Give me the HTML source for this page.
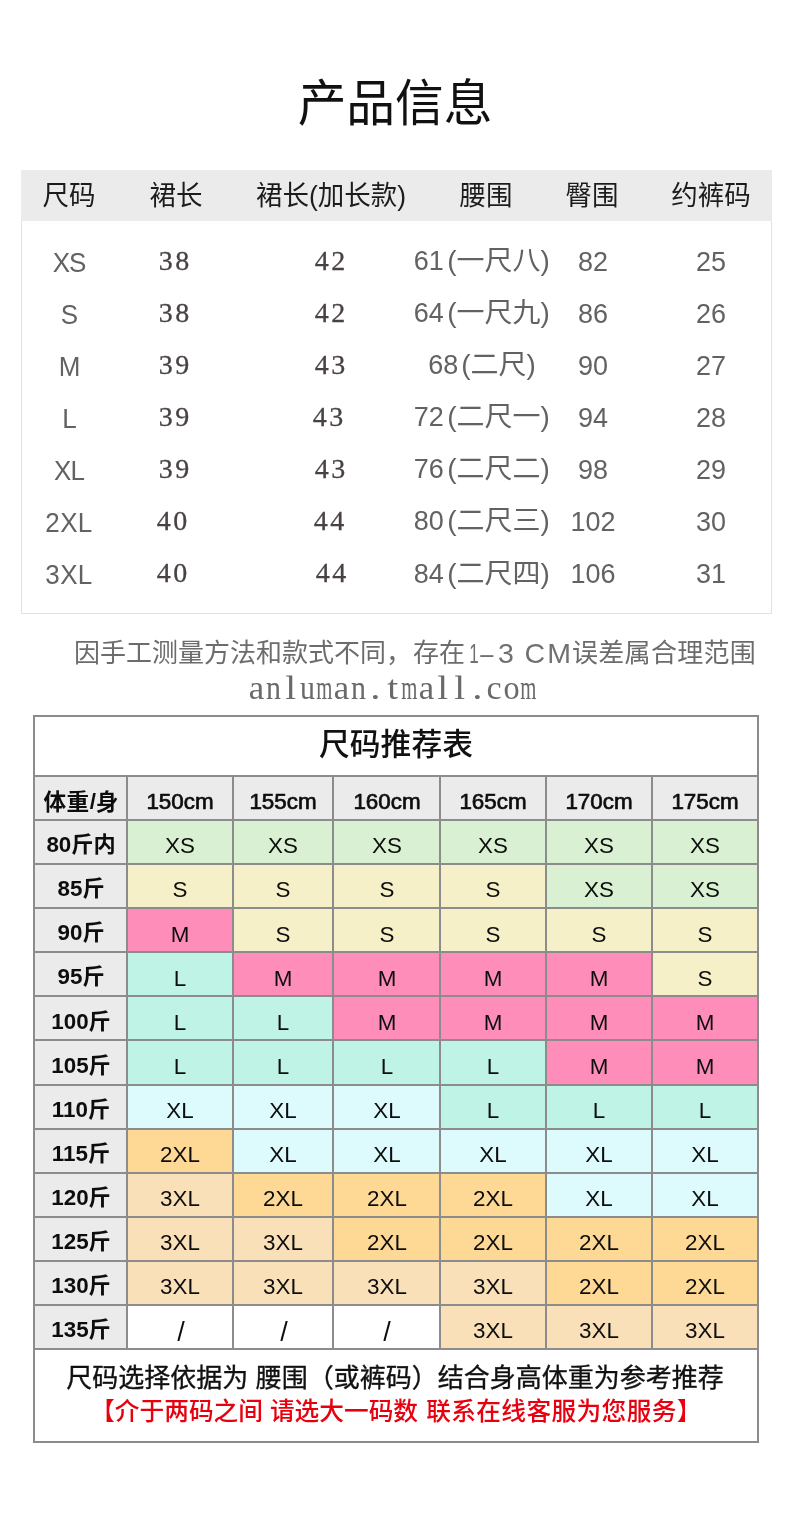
<!DOCTYPE html>
<html lang="zh"><head><meta charset="utf-8"><title>产品信息</title>
<style>
html,body{margin:0;padding:0;background:#fff}
body{width:790px;height:1519px;position:relative;overflow:hidden;font-family:"Liberation Sans","Noto Sans CJK SC",sans-serif}
.t{will-change:transform;position:absolute;transform:translateX(-50%);white-space:nowrap;line-height:1}
.b,.ln,.t1{position:absolute}
.t1{border:1px solid #e2e2e2;background:#fff}
.cj{font-family:"Liberation Sans","Noto Sans CJK SC",sans-serif;white-space:nowrap}
.pj{display:inline-block;margin-left:1px;font-size:1.037em;text-align:center;transform:scaleY(0.92);transform-origin:50% 88%}
.vs{transform:translateX(-50%) scaleY(1.045);transform-origin:50% 88%}
.vt{transform:translateX(-50%) scaleY(1.045);transform-origin:50% 84.65%}
.h1{color:#1c1c1c}
.g{color:#626262}
.sz{letter-spacing:-1px}
.sz3{letter-spacing:.4px}
.l{transform:none}
.sf{font-family:"Liberation Serif",serif;color:#4a4242;letter-spacing:2.6px;padding-left:2.6px;-webkit-text-stroke:.3px #4a4242}
.url{font-family:"Liberation Serif",serif;color:#6a6a6a;display:flex}
.uc{width:16.97px;display:flex;justify-content:center}
.n0{color:#6c6c6c}
.n1{color:#707070}
.k{color:#0d0d0d}
.bd{font-weight:bold}
.md{-webkit-text-stroke:.7px #0d0d0d}
.sp{display:inline-block;width:.28em}
.ib{display:inline-block}
</style></head>
<body>
<div class="t vs" style="left:394.7px;top:79.74px;font-size:48.7px;color:#111;transform:translateX(-50%) scaleY(1.03)"><span class="cj">产品信息</span></div>
<div class="t1" style="left:21px;top:170px;width:749px;height:442px"></div>
<div class="b" style="left:21px;top:170px;width:751px;height:51px;background:#ebebeb"></div>
<div class="t h1 vs" style="left:69px;top:182.68px;font-size:26.5px;"><span class="cj">尺码</span></div>
<div class="t h1 vs" style="left:175.5px;top:182.68px;font-size:26.5px;"><span class="cj">裙长</span></div>
<div class="t h1 vs" style="left:331px;top:182.68px;font-size:26.5px;"><span class="cj">裙长(加长款)</span></div>
<div class="t h1 vs" style="left:486px;top:182.68px;font-size:26.5px;"><span class="cj">腰围</span></div>
<div class="t h1 vs" style="left:592px;top:182.68px;font-size:26.5px;"><span class="cj">臀围</span></div>
<div class="t h1 vs" style="left:711px;top:182.68px;font-size:26.5px;"><span class="cj">约裤码</span></div>
<div class="t g vt sz" style="left:69px;top:249.59px;font-size:26px;">XS</div>
<div class="t sf" style="left:174.1px;top:246.85px;font-size:28px;">38</div>
<div class="t sf" style="left:330.1px;top:246.85px;font-size:28px;">42</div>
<div class="t g vs" style="left:482.6px;top:246.96px;font-size:27px;">61<span class="cj pj" style="width:3.836em">(一尺八)</span></div>
<div class="t g vt" style="left:593px;top:248.74px;font-size:27px;">82</div>
<div class="t g vt" style="left:711px;top:248.74px;font-size:27px;">25</div>
<div class="t g vt sz" style="left:69px;top:301.69px;font-size:26px;">S</div>
<div class="t sf" style="left:174.1px;top:298.95px;font-size:28px;">38</div>
<div class="t sf" style="left:330.1px;top:298.95px;font-size:28px;">42</div>
<div class="t g vs" style="left:482.6px;top:299.06px;font-size:27px;">64<span class="cj pj" style="width:3.836em">(一尺九)</span></div>
<div class="t g vt" style="left:593px;top:300.84px;font-size:27px;">86</div>
<div class="t g vt" style="left:711px;top:300.84px;font-size:27px;">26</div>
<div class="t g vt sz" style="left:69px;top:353.79px;font-size:26px;">M</div>
<div class="t sf" style="left:174.1px;top:351.05px;font-size:28px;">39</div>
<div class="t sf" style="left:330.1px;top:351.05px;font-size:28px;">43</div>
<div class="t g vs" style="left:482.6px;top:351.16px;font-size:27px;">68<span class="cj pj" style="width:2.796em">(二尺)</span></div>
<div class="t g vt" style="left:593px;top:352.94px;font-size:27px;">90</div>
<div class="t g vt" style="left:711px;top:352.94px;font-size:27px;">27</div>
<div class="t g vt sz" style="left:69px;top:405.89px;font-size:26px;">L</div>
<div class="t sf" style="left:174.1px;top:403.15px;font-size:28px;">39</div>
<div class="t sf" style="left:328.4px;top:403.15px;font-size:28px;">43</div>
<div class="t g vs" style="left:482.6px;top:403.26px;font-size:27px;">72<span class="cj pj" style="width:3.836em">(二尺一)</span></div>
<div class="t g vt" style="left:593px;top:405.04px;font-size:27px;">94</div>
<div class="t g vt" style="left:711px;top:405.04px;font-size:27px;">28</div>
<div class="t g vt sz" style="left:69px;top:457.99px;font-size:26px;">XL</div>
<div class="t sf" style="left:174.1px;top:455.25px;font-size:28px;">39</div>
<div class="t sf" style="left:330.1px;top:455.25px;font-size:28px;">43</div>
<div class="t g vs" style="left:482.6px;top:455.36px;font-size:27px;">76<span class="cj pj" style="width:3.836em">(二尺二)</span></div>
<div class="t g vt" style="left:593px;top:457.14px;font-size:27px;">98</div>
<div class="t g vt" style="left:711px;top:457.14px;font-size:27px;">29</div>
<div class="t g vt sz3" style="left:69px;top:510.09px;font-size:26px;">2XL</div>
<div class="t sf" style="left:171.9px;top:507.35px;font-size:28px;">40</div>
<div class="t sf" style="left:329px;top:507.35px;font-size:28px;">44</div>
<div class="t g vs" style="left:482.6px;top:507.46px;font-size:27px;">80<span class="cj pj" style="width:3.836em">(二尺三)</span></div>
<div class="t g vt" style="left:593px;top:509.24px;font-size:27px;">102</div>
<div class="t g vt" style="left:711px;top:509.24px;font-size:27px;">30</div>
<div class="t g vt sz3" style="left:69px;top:562.19px;font-size:26px;">3XL</div>
<div class="t sf" style="left:171.9px;top:559.45px;font-size:28px;">40</div>
<div class="t sf" style="left:331.1px;top:559.45px;font-size:28px;">44</div>
<div class="t g vs" style="left:482.6px;top:559.56px;font-size:27px;">84<span class="cj pj" style="width:3.836em">(二尺四)</span></div>
<div class="t g vt" style="left:593px;top:561.34px;font-size:27px;">106</div>
<div class="t g vt" style="left:711px;top:561.34px;font-size:27px;">31</div>
<div class="t l n0" style="left:73.67px;top:640.12px;font-size:26px;"><span class="cj">因手工测量方法和款式不同，</span></div>
<div class="t l n0" style="left:412.89px;top:640.12px;font-size:26px;"><span class="cj">存在</span></div>
<div class="t l n1" style="left:466.30px;top:638.87px;font-size:28.5px;"><span class="ib" style="transform:scaleX(.6)">1</span><span class="ib" style="transform:scaleX(.83);margin-left:-2.85px">–</span><span style="margin-left:3.15px">3</span><span style="letter-spacing:2.8px"> </span><span style="letter-spacing:2px">C</span>M</div>
<div class="t l n0" style="left:571.86px;top:640.12px;font-size:26px;"><span class="cj" style="letter-spacing:.012em">误差属合理范围</span></div>
<div class="t l url" style="left:248.30px;top:671.02px;font-size:34px;"><span class="uc"><span style="transform:scaleX(1.02)">a</span></span><span class="uc"><span style="transform:scaleX(0.88)">n</span></span><span class="uc"><span style="transform:scaleX(1.15)">l</span></span><span class="uc"><span style="transform:scaleX(0.88)">u</span></span><span class="uc"><span style="transform:scaleX(0.61)">m</span></span><span class="uc"><span style="transform:scaleX(1.02)">a</span></span><span class="uc"><span style="transform:scaleX(0.88)">n</span></span><span class="uc"><span style="transform:scaleX(1.2)">.</span></span><span class="uc"><span style="transform:scaleX(1.15)">t</span></span><span class="uc"><span style="transform:scaleX(0.61)">m</span></span><span class="uc"><span style="transform:scaleX(1.02)">a</span></span><span class="uc"><span style="transform:scaleX(1.15)">l</span></span><span class="uc"><span style="transform:scaleX(1.15)">l</span></span><span class="uc"><span style="transform:scaleX(1.2)">.</span></span><span class="uc"><span style="transform:scaleX(1.0)">c</span></span><span class="uc"><span style="transform:scaleX(0.95)">o</span></span><span class="uc"><span style="transform:scaleX(0.61)">m</span></span></div>
<div class="b" style="left:33px;top:775px;width:724px;height:44px;background:#ebebeb"></div>
<div class="b" style="left:33px;top:819px;width:93px;height:529px;background:#ebebeb"></div>
<div class="b" style="left:126px;top:819px;width:106px;height:44px;background:#d9f0d2"></div>
<div class="b" style="left:232px;top:819px;width:100px;height:44px;background:#d9f0d2"></div>
<div class="b" style="left:332px;top:819px;width:107px;height:44px;background:#d9f0d2"></div>
<div class="b" style="left:439px;top:819px;width:106px;height:44px;background:#d9f0d2"></div>
<div class="b" style="left:545px;top:819px;width:106px;height:44px;background:#d9f0d2"></div>
<div class="b" style="left:651px;top:819px;width:106px;height:44px;background:#d9f0d2"></div>
<div class="b" style="left:126px;top:863px;width:106px;height:44px;background:#f5f0c8"></div>
<div class="b" style="left:232px;top:863px;width:100px;height:44px;background:#f5f0c8"></div>
<div class="b" style="left:332px;top:863px;width:107px;height:44px;background:#f5f0c8"></div>
<div class="b" style="left:439px;top:863px;width:106px;height:44px;background:#f5f0c8"></div>
<div class="b" style="left:545px;top:863px;width:106px;height:44px;background:#d9f0d2"></div>
<div class="b" style="left:651px;top:863px;width:106px;height:44px;background:#d9f0d2"></div>
<div class="b" style="left:126px;top:907px;width:106px;height:44px;background:#ff8dba"></div>
<div class="b" style="left:232px;top:907px;width:100px;height:44px;background:#f5f0c8"></div>
<div class="b" style="left:332px;top:907px;width:107px;height:44px;background:#f5f0c8"></div>
<div class="b" style="left:439px;top:907px;width:106px;height:44px;background:#f5f0c8"></div>
<div class="b" style="left:545px;top:907px;width:106px;height:44px;background:#f5f0c8"></div>
<div class="b" style="left:651px;top:907px;width:106px;height:44px;background:#f5f0c8"></div>
<div class="b" style="left:126px;top:951px;width:106px;height:44px;background:#bef3e6"></div>
<div class="b" style="left:232px;top:951px;width:100px;height:44px;background:#ff8dba"></div>
<div class="b" style="left:332px;top:951px;width:107px;height:44px;background:#ff8dba"></div>
<div class="b" style="left:439px;top:951px;width:106px;height:44px;background:#ff8dba"></div>
<div class="b" style="left:545px;top:951px;width:106px;height:44px;background:#ff8dba"></div>
<div class="b" style="left:651px;top:951px;width:106px;height:44px;background:#f5f0c8"></div>
<div class="b" style="left:126px;top:995px;width:106px;height:44px;background:#bef3e6"></div>
<div class="b" style="left:232px;top:995px;width:100px;height:44px;background:#bef3e6"></div>
<div class="b" style="left:332px;top:995px;width:107px;height:44px;background:#ff8dba"></div>
<div class="b" style="left:439px;top:995px;width:106px;height:44px;background:#ff8dba"></div>
<div class="b" style="left:545px;top:995px;width:106px;height:44px;background:#ff8dba"></div>
<div class="b" style="left:651px;top:995px;width:106px;height:44px;background:#ff8dba"></div>
<div class="b" style="left:126px;top:1039px;width:106px;height:45px;background:#bef3e6"></div>
<div class="b" style="left:232px;top:1039px;width:100px;height:45px;background:#bef3e6"></div>
<div class="b" style="left:332px;top:1039px;width:107px;height:45px;background:#bef3e6"></div>
<div class="b" style="left:439px;top:1039px;width:106px;height:45px;background:#bef3e6"></div>
<div class="b" style="left:545px;top:1039px;width:106px;height:45px;background:#ff8dba"></div>
<div class="b" style="left:651px;top:1039px;width:106px;height:45px;background:#ff8dba"></div>
<div class="b" style="left:126px;top:1084px;width:106px;height:44px;background:#ddfbfd"></div>
<div class="b" style="left:232px;top:1084px;width:100px;height:44px;background:#ddfbfd"></div>
<div class="b" style="left:332px;top:1084px;width:107px;height:44px;background:#ddfbfd"></div>
<div class="b" style="left:439px;top:1084px;width:106px;height:44px;background:#bef3e6"></div>
<div class="b" style="left:545px;top:1084px;width:106px;height:44px;background:#bef3e6"></div>
<div class="b" style="left:651px;top:1084px;width:106px;height:44px;background:#bef3e6"></div>
<div class="b" style="left:126px;top:1128px;width:106px;height:44px;background:#fdd995"></div>
<div class="b" style="left:232px;top:1128px;width:100px;height:44px;background:#ddfbfd"></div>
<div class="b" style="left:332px;top:1128px;width:107px;height:44px;background:#ddfbfd"></div>
<div class="b" style="left:439px;top:1128px;width:106px;height:44px;background:#ddfbfd"></div>
<div class="b" style="left:545px;top:1128px;width:106px;height:44px;background:#ddfbfd"></div>
<div class="b" style="left:651px;top:1128px;width:106px;height:44px;background:#ddfbfd"></div>
<div class="b" style="left:126px;top:1172px;width:106px;height:44px;background:#fae0b9"></div>
<div class="b" style="left:232px;top:1172px;width:100px;height:44px;background:#fdd995"></div>
<div class="b" style="left:332px;top:1172px;width:107px;height:44px;background:#fdd995"></div>
<div class="b" style="left:439px;top:1172px;width:106px;height:44px;background:#fdd995"></div>
<div class="b" style="left:545px;top:1172px;width:106px;height:44px;background:#ddfbfd"></div>
<div class="b" style="left:651px;top:1172px;width:106px;height:44px;background:#ddfbfd"></div>
<div class="b" style="left:126px;top:1216px;width:106px;height:44px;background:#fae0b9"></div>
<div class="b" style="left:232px;top:1216px;width:100px;height:44px;background:#fae0b9"></div>
<div class="b" style="left:332px;top:1216px;width:107px;height:44px;background:#fdd995"></div>
<div class="b" style="left:439px;top:1216px;width:106px;height:44px;background:#fdd995"></div>
<div class="b" style="left:545px;top:1216px;width:106px;height:44px;background:#fdd995"></div>
<div class="b" style="left:651px;top:1216px;width:106px;height:44px;background:#fdd995"></div>
<div class="b" style="left:126px;top:1260px;width:106px;height:44px;background:#fae0b9"></div>
<div class="b" style="left:232px;top:1260px;width:100px;height:44px;background:#fae0b9"></div>
<div class="b" style="left:332px;top:1260px;width:107px;height:44px;background:#fae0b9"></div>
<div class="b" style="left:439px;top:1260px;width:106px;height:44px;background:#fae0b9"></div>
<div class="b" style="left:545px;top:1260px;width:106px;height:44px;background:#fdd995"></div>
<div class="b" style="left:651px;top:1260px;width:106px;height:44px;background:#fdd995"></div>
<div class="b" style="left:439px;top:1304px;width:106px;height:44px;background:#fae0b9"></div>
<div class="b" style="left:545px;top:1304px;width:106px;height:44px;background:#fae0b9"></div>
<div class="b" style="left:651px;top:1304px;width:106px;height:44px;background:#fae0b9"></div>
<div class="ln" style="left:33px;top:715px;width:726px;height:2px;background:#8c8c8c"></div>
<div class="ln" style="left:33px;top:775px;width:726px;height:2px;background:#8c8c8c"></div>
<div class="ln" style="left:33px;top:819px;width:726px;height:2px;background:#8c8c8c"></div>
<div class="ln" style="left:33px;top:863px;width:726px;height:2px;background:#8c8c8c"></div>
<div class="ln" style="left:33px;top:907px;width:726px;height:2px;background:#8c8c8c"></div>
<div class="ln" style="left:33px;top:951px;width:726px;height:2px;background:#8c8c8c"></div>
<div class="ln" style="left:33px;top:995px;width:726px;height:2px;background:#8c8c8c"></div>
<div class="ln" style="left:33px;top:1039px;width:726px;height:2px;background:#8c8c8c"></div>
<div class="ln" style="left:33px;top:1084px;width:726px;height:2px;background:#8c8c8c"></div>
<div class="ln" style="left:33px;top:1128px;width:726px;height:2px;background:#8c8c8c"></div>
<div class="ln" style="left:33px;top:1172px;width:726px;height:2px;background:#8c8c8c"></div>
<div class="ln" style="left:33px;top:1216px;width:726px;height:2px;background:#8c8c8c"></div>
<div class="ln" style="left:33px;top:1260px;width:726px;height:2px;background:#8c8c8c"></div>
<div class="ln" style="left:33px;top:1304px;width:726px;height:2px;background:#8c8c8c"></div>
<div class="ln" style="left:33px;top:1348px;width:726px;height:2px;background:#8c8c8c"></div>
<div class="ln" style="left:33px;top:1441px;width:726px;height:2px;background:#8c8c8c"></div>
<div class="ln" style="left:33px;top:715px;width:2px;height:728px;background:#8c8c8c"></div>
<div class="ln" style="left:757px;top:715px;width:2px;height:728px;background:#8c8c8c"></div>
<div class="ln" style="left:126px;top:775px;width:2px;height:573px;background:#8c8c8c"></div>
<div class="ln" style="left:232px;top:775px;width:2px;height:573px;background:#8c8c8c"></div>
<div class="ln" style="left:332px;top:775px;width:2px;height:573px;background:#8c8c8c"></div>
<div class="ln" style="left:439px;top:775px;width:2px;height:573px;background:#8c8c8c"></div>
<div class="ln" style="left:545px;top:775px;width:2px;height:573px;background:#8c8c8c"></div>
<div class="ln" style="left:651px;top:775px;width:2px;height:573px;background:#8c8c8c"></div>
<div class="t" style="left:396px;top:729.90px;font-size:30.8px;color:#111"><span class="cj" style="font-weight:500">尺码推荐表</span></div>
<div class="t k bd" style="left:80.5px;top:790.59px;font-size:22.4px;"><span class="cj" style="font-size:1.01em;position:relative;top:0.5px;letter-spacing:.02em">体重</span>/<span class="cj" style="font-size:1.01em;position:relative;top:0.5px">身</span></div>
<div class="t k md" style="left:180px;top:791.34px;font-size:22.4px;">150cm</div>
<div class="t k md" style="left:283px;top:791.34px;font-size:22.4px;">155cm</div>
<div class="t k md" style="left:386.5px;top:791.34px;font-size:22.4px;">160cm</div>
<div class="t k md" style="left:493px;top:791.34px;font-size:22.4px;">165cm</div>
<div class="t k md" style="left:599px;top:791.34px;font-size:22.4px;">170cm</div>
<div class="t k md" style="left:705px;top:791.34px;font-size:22.4px;">175cm</div>
<div class="t k bd" style="left:80.5px;top:834.21px;font-size:22.4px;">80<span class="cj" style="font-size:0.99em;position:relative;top:0.3px">斤内</span></div>
<div class="t k" style="left:180px;top:835.36px;font-size:22.4px;">XS</div>
<div class="t k" style="left:283px;top:835.36px;font-size:22.4px;">XS</div>
<div class="t k" style="left:386.5px;top:835.36px;font-size:22.4px;">XS</div>
<div class="t k" style="left:493px;top:835.36px;font-size:22.4px;">XS</div>
<div class="t k" style="left:599px;top:835.36px;font-size:22.4px;">XS</div>
<div class="t k" style="left:705px;top:835.36px;font-size:22.4px;">XS</div>
<div class="t k bd" style="left:80.5px;top:878.29px;font-size:22.4px;">85<span class="cj" style="font-size:0.99em;position:relative;top:0.3px">斤</span></div>
<div class="t k" style="left:180px;top:879.44px;font-size:22.4px;">S</div>
<div class="t k" style="left:283px;top:879.44px;font-size:22.4px;">S</div>
<div class="t k" style="left:386.5px;top:879.44px;font-size:22.4px;">S</div>
<div class="t k" style="left:493px;top:879.44px;font-size:22.4px;">S</div>
<div class="t k" style="left:599px;top:879.44px;font-size:22.4px;">XS</div>
<div class="t k" style="left:705px;top:879.44px;font-size:22.4px;">XS</div>
<div class="t k bd" style="left:80.5px;top:922.37px;font-size:22.4px;">90<span class="cj" style="font-size:0.99em;position:relative;top:0.3px">斤</span></div>
<div class="t k" style="left:180px;top:923.52px;font-size:22.4px;">M</div>
<div class="t k" style="left:283px;top:923.52px;font-size:22.4px;">S</div>
<div class="t k" style="left:386.5px;top:923.52px;font-size:22.4px;">S</div>
<div class="t k" style="left:493px;top:923.52px;font-size:22.4px;">S</div>
<div class="t k" style="left:599px;top:923.52px;font-size:22.4px;">S</div>
<div class="t k" style="left:705px;top:923.52px;font-size:22.4px;">S</div>
<div class="t k bd" style="left:80.5px;top:966.45px;font-size:22.4px;">95<span class="cj" style="font-size:0.99em;position:relative;top:0.3px">斤</span></div>
<div class="t k" style="left:180px;top:967.60px;font-size:22.4px;">L</div>
<div class="t k" style="left:283px;top:967.60px;font-size:22.4px;">M</div>
<div class="t k" style="left:386.5px;top:967.60px;font-size:22.4px;">M</div>
<div class="t k" style="left:493px;top:967.60px;font-size:22.4px;">M</div>
<div class="t k" style="left:599px;top:967.60px;font-size:22.4px;">M</div>
<div class="t k" style="left:705px;top:967.60px;font-size:22.4px;">S</div>
<div class="t k bd" style="left:80.5px;top:1010.53px;font-size:22.4px;">100<span class="cj" style="font-size:0.99em;position:relative;top:0.3px">斤</span></div>
<div class="t k" style="left:180px;top:1011.68px;font-size:22.4px;">L</div>
<div class="t k" style="left:283px;top:1011.68px;font-size:22.4px;">L</div>
<div class="t k" style="left:386.5px;top:1011.68px;font-size:22.4px;">M</div>
<div class="t k" style="left:493px;top:1011.68px;font-size:22.4px;">M</div>
<div class="t k" style="left:599px;top:1011.68px;font-size:22.4px;">M</div>
<div class="t k" style="left:705px;top:1011.68px;font-size:22.4px;">M</div>
<div class="t k bd" style="left:80.5px;top:1054.61px;font-size:22.4px;">105<span class="cj" style="font-size:0.99em;position:relative;top:0.3px">斤</span></div>
<div class="t k" style="left:180px;top:1055.76px;font-size:22.4px;">L</div>
<div class="t k" style="left:283px;top:1055.76px;font-size:22.4px;">L</div>
<div class="t k" style="left:386.5px;top:1055.76px;font-size:22.4px;">L</div>
<div class="t k" style="left:493px;top:1055.76px;font-size:22.4px;">L</div>
<div class="t k" style="left:599px;top:1055.76px;font-size:22.4px;">M</div>
<div class="t k" style="left:705px;top:1055.76px;font-size:22.4px;">M</div>
<div class="t k bd" style="left:80.5px;top:1098.69px;font-size:22.4px;">110<span class="cj" style="font-size:0.99em;position:relative;top:0.3px">斤</span></div>
<div class="t k" style="left:180px;top:1099.84px;font-size:22.4px;">XL</div>
<div class="t k" style="left:283px;top:1099.84px;font-size:22.4px;">XL</div>
<div class="t k" style="left:386.5px;top:1099.84px;font-size:22.4px;">XL</div>
<div class="t k" style="left:493px;top:1099.84px;font-size:22.4px;">L</div>
<div class="t k" style="left:599px;top:1099.84px;font-size:22.4px;">L</div>
<div class="t k" style="left:705px;top:1099.84px;font-size:22.4px;">L</div>
<div class="t k bd" style="left:80.5px;top:1142.77px;font-size:22.4px;">115<span class="cj" style="font-size:0.99em;position:relative;top:0.3px">斤</span></div>
<div class="t k" style="left:180px;top:1143.92px;font-size:22.4px;">2XL</div>
<div class="t k" style="left:283px;top:1143.92px;font-size:22.4px;">XL</div>
<div class="t k" style="left:386.5px;top:1143.92px;font-size:22.4px;">XL</div>
<div class="t k" style="left:493px;top:1143.92px;font-size:22.4px;">XL</div>
<div class="t k" style="left:599px;top:1143.92px;font-size:22.4px;">XL</div>
<div class="t k" style="left:705px;top:1143.92px;font-size:22.4px;">XL</div>
<div class="t k bd" style="left:80.5px;top:1186.85px;font-size:22.4px;">120<span class="cj" style="font-size:0.99em;position:relative;top:0.3px">斤</span></div>
<div class="t k" style="left:180px;top:1188.00px;font-size:22.4px;">3XL</div>
<div class="t k" style="left:283px;top:1188.00px;font-size:22.4px;">2XL</div>
<div class="t k" style="left:386.5px;top:1188.00px;font-size:22.4px;">2XL</div>
<div class="t k" style="left:493px;top:1188.00px;font-size:22.4px;">2XL</div>
<div class="t k" style="left:599px;top:1188.00px;font-size:22.4px;">XL</div>
<div class="t k" style="left:705px;top:1188.00px;font-size:22.4px;">XL</div>
<div class="t k bd" style="left:80.5px;top:1230.93px;font-size:22.4px;">125<span class="cj" style="font-size:0.99em;position:relative;top:0.3px">斤</span></div>
<div class="t k" style="left:180px;top:1232.08px;font-size:22.4px;">3XL</div>
<div class="t k" style="left:283px;top:1232.08px;font-size:22.4px;">3XL</div>
<div class="t k" style="left:386.5px;top:1232.08px;font-size:22.4px;">2XL</div>
<div class="t k" style="left:493px;top:1232.08px;font-size:22.4px;">2XL</div>
<div class="t k" style="left:599px;top:1232.08px;font-size:22.4px;">2XL</div>
<div class="t k" style="left:705px;top:1232.08px;font-size:22.4px;">2XL</div>
<div class="t k bd" style="left:80.5px;top:1275.01px;font-size:22.4px;">130<span class="cj" style="font-size:0.99em;position:relative;top:0.3px">斤</span></div>
<div class="t k" style="left:180px;top:1276.16px;font-size:22.4px;">3XL</div>
<div class="t k" style="left:283px;top:1276.16px;font-size:22.4px;">3XL</div>
<div class="t k" style="left:386.5px;top:1276.16px;font-size:22.4px;">3XL</div>
<div class="t k" style="left:493px;top:1276.16px;font-size:22.4px;">3XL</div>
<div class="t k" style="left:599px;top:1276.16px;font-size:22.4px;">2XL</div>
<div class="t k" style="left:705px;top:1276.16px;font-size:22.4px;">2XL</div>
<div class="t k bd" style="left:80.5px;top:1319.09px;font-size:22.4px;">135<span class="cj" style="font-size:0.99em;position:relative;top:0.3px">斤</span></div>
<div class="t k" style="left:180.5px;top:1318.84px;font-size:27px;">/</div>
<div class="t k" style="left:283.5px;top:1318.84px;font-size:27px;">/</div>
<div class="t k" style="left:387px;top:1318.84px;font-size:27px;">/</div>
<div class="t k" style="left:493px;top:1320.24px;font-size:22.4px;">3XL</div>
<div class="t k" style="left:599px;top:1320.24px;font-size:22.4px;">3XL</div>
<div class="t k" style="left:705px;top:1320.24px;font-size:22.4px;">3XL</div>
<div class="t" style="left:395.2px;top:1365.12px;font-size:26px;color:#111"><span class="cj" style="-webkit-text-stroke:.014em currentColor">尺码选择依据为</span><span class="sp"></span><span class="cj" style="-webkit-text-stroke:.014em currentColor">腰围（或裤码）结合身高体重为参考推荐</span></div>
<div class="t" style="left:395.6px;top:1400.26px;font-size:24.7px;color:#e8000f"><span class="cj" style="font-weight:500">【介于两码之间</span><span class="sp"></span><span class="cj" style="font-weight:500">请选大一码数</span><span class="sp" style="width:.33em"></span><span class="cj" style="font-weight:500;letter-spacing:.015em">联系在线客服为您服务】</span></div>
</body></html>
